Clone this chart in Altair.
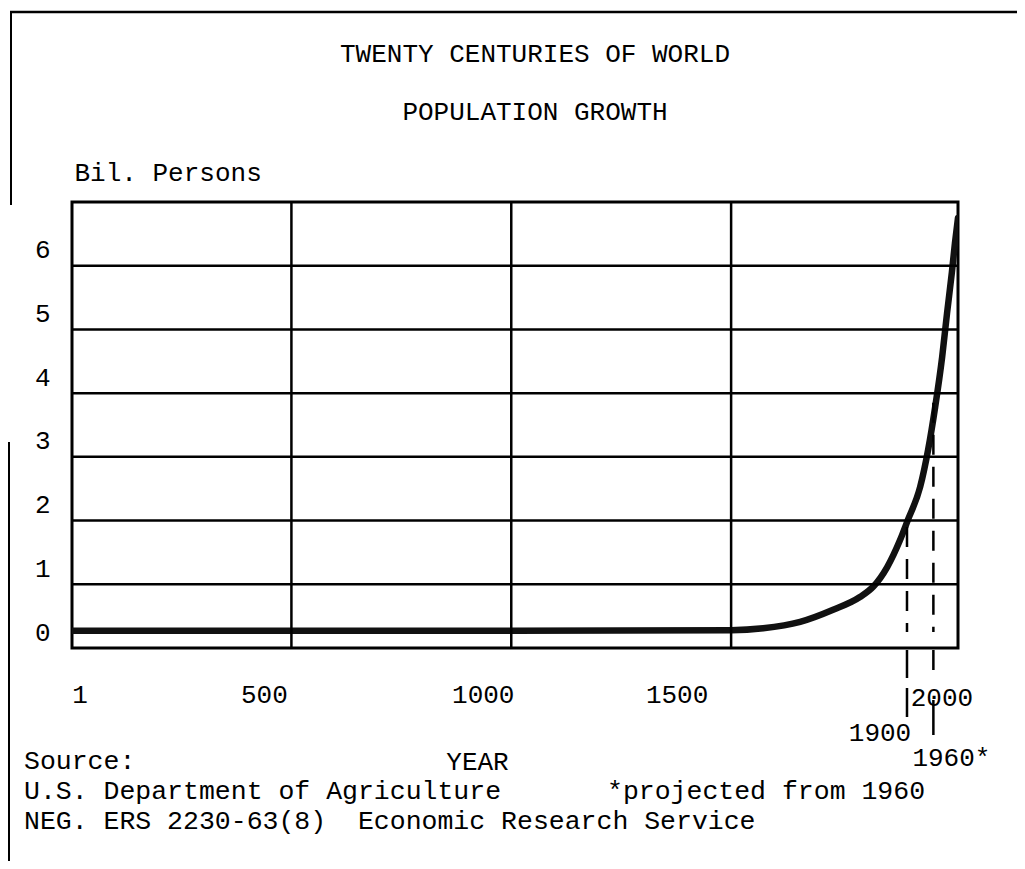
import altair as alt
import pandas as pd

# ---------------- data ----------------
years = [1, 500, 1000, 1500, 1573, 1657, 1732, 1793, 1823, 1855, 1884, 1902,
         1930, 1948, 1964, 1980, 1991, 2002, 2009, 2016]
population = [0.02, 0.02, 0.02, 0.03, 0.06, 0.16, 0.35, 0.55, 0.71, 1.02, 1.44, 1.76,
              2.28, 2.86, 3.53, 4.32, 5.0, 5.64, 6.1, 6.5]

y_tick_values = [0, 1, 2, 3, 4, 5, 6]
x_label_years = [1, 500, 1000, 1500, 2000, 1900, 1960]
x_label_texts = ["1", "500", "1000", "1500", "2000", "1900", "1960*"]
h_grid_values = [0.75, 1.75, 2.75, 3.75, 4.75, 5.75]
v_grid_years = [500, 1000, 1500]
marker_years = [1900, 1960]
marker_tops = [1.65, 3.6]

title_lines = ["TWENTY CENTURIES OF WORLD", "POPULATION GROWTH"]
y_title = "Bil. Persons"
x_title = "YEAR"
note_source = "Source:"
note_usda = "U.S. Department of Agriculture"
note_projected = "*projected from 1960"
note_neg = "NEG. ERS 2230-63(8)\u00a0 Economic Research Service"

# ---------------- settings ----------------
FONT = "Liberation Mono"
FS = 26
NOTE_FS = 26.5
W, H = 886, 446
xs = alt.Scale(domain=[1, 2016], nice=False, zero=False)
ys = alt.Scale(domain=[-0.25, 6.75], nice=False, zero=False)

x_axis = alt.Axis(
    title=x_title, titleFont=FONT, titleFontSize=FS, titleFontWeight="normal",
    titleColor="black", titleX=405, titleY=113, titleBaseline="middle", titleAlign="center",
    labels=False, ticks=False, domain=False, grid=False,
)
y_axis = alt.Axis(
    values=y_tick_values, format="d",
    title=y_title, titleAngle=0, titleAlign="left", titleBaseline="middle",
    titleX=2, titleY=-30, titleFont=FONT, titleFontSize=FS, titleFontWeight="normal",
    titleColor="black",
    labelFont=FONT, labelFontSize=FS, labelColor="black", labelPadding=22,
    ticks=False, domain=False, grid=False,
)

curve_df = pd.DataFrame({"year": years, "pop": population})
hgrid_df = pd.DataFrame({"v": h_grid_values})
vgrid_df = pd.DataFrame({"year": v_grid_years})
marker_df = pd.DataFrame({"year": marker_years, "top": marker_tops})

X = lambda f: alt.X(f, scale=xs, axis=x_axis)
Y = lambda f: alt.Y(f, scale=ys, axis=y_axis)

hgrid = alt.Chart(hgrid_df).mark_rule(color="black", strokeWidth=2.5).encode(y=Y("v:Q"))
vgrid = alt.Chart(vgrid_df).mark_rule(color="black", strokeWidth=2.5).encode(x=X("year:Q"))
markers = alt.Chart(marker_df).mark_rule(color="black", strokeWidth=2.5, strokeDash=[20, 12]).encode(
    x=X("year:Q"), y=Y("top:Q"), y2=alt.datum(0)
)
curve = alt.Chart(curve_df).mark_line(
    color="#111111", strokeWidth=6.5, interpolate="monotone", strokeCap="round", clip=True
).encode(x=X("year:Q"), y=Y("pop:Q"))

# tick strokes below the frame for 1900 and 1960
tick_dash = {1900: ([28, 10, 29, 400], 70), 1960: ([20, 30, 35, 400], 87)}
ticks = []
for yr in marker_years:
    dash, length = tick_dash[yr]
    ticks.append(
        alt.Chart(marker_df[marker_df.year == yr]).mark_rule(
            color="black", strokeWidth=2.5, strokeDash=dash
        ).encode(x=X("year:Q"), y=alt.value(H + 2), y2=alt.value(H + length))
    )

# year labels under the axis (typed positions are offset from the grid in the original)
label_style = {1: (8, 493), 500: (-27, 493), 1000: (-28, 493), 1500: (-54, 493),
               2000: (-9, 496), 1900: (-27, 531), 1960: (18, 556)}
labels = []
for yr, txt in zip(x_label_years, x_label_texts):
    dx, ypix = label_style[yr]
    labels.append(
        alt.Chart(pd.DataFrame({"year": [yr], "t": [txt]})).mark_text(
            font=FONT, fontSize=FS, color="black", align="center", baseline="middle", dx=dx
        ).encode(x=X("year:Q"), y=alt.value(ypix), text="t:N")
    )


def note(text, x, y):
    return alt.Chart(pd.DataFrame({"t": [text]})).mark_text(
        font=FONT, fontSize=NOTE_FS, color="black", align="left", baseline="middle"
    ).encode(text="t:N", x=alt.value(x), y=alt.value(y))


notes = [
    note(note_source, -48, 559),
    note(note_usda, -48, 589),
    note(note_projected, 535, 589),
    note(note_neg, -48, 619),
]

# scanned page border (top and left)
border = [
    alt.Chart(pd.DataFrame({"a": [0]})).mark_rule(color="black", strokeWidth=2.5).encode(
        x=alt.value(-62), x2=alt.value(W + 70), y=alt.value(-190)
    ),
    alt.Chart(pd.DataFrame({"a": [0]})).mark_rule(color="black", strokeWidth=2).encode(
        x=alt.value(-61), y=alt.value(-190), y2=alt.value(3)
    ),
    alt.Chart(pd.DataFrame({"a": [0]})).mark_rule(color="black", strokeWidth=2).encode(
        x=alt.value(-63), y=alt.value(240), y2=alt.value(H + 230)
    ),
]

chart = alt.layer(curve, hgrid, vgrid, markers, *ticks, *labels, *notes, *border).properties(
    width=W,
    height=H,
    autosize="none",
    padding={"left": 64, "top": 194, "right": 59, "bottom": 213},
    background="white",
    title=alt.TitleParams(
        text=title_lines, font=FONT, fontSize=FS, fontWeight="normal", color="black",
        lineHeight=58, anchor="middle", dx=20, baseline="bottom", offset=-140,
    ),
).configure_view(stroke="black", strokeWidth=3)

chart.save("out.html", embed_options={"renderer": "svg", "actions": False})
